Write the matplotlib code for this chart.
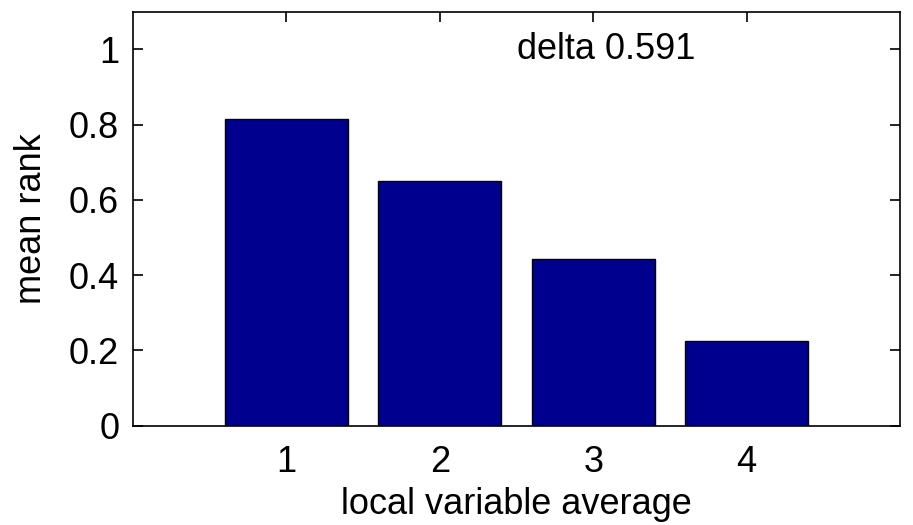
import matplotlib
matplotlib.use('Agg')
import matplotlib.pyplot as plt

plt.rcParams['font.family'] = ['Liberation Sans', 'DejaVu Sans']

groups = [1, 2, 3, 4]
mean_rank = [0.814, 0.650, 0.442, 0.225]
delta = 0.591

fig = plt.figure(figsize=(9.13, 5.25), dpi=100)
ax = fig.add_axes([0.1457, 0.189, 0.8401, 0.789])

ax.bar(groups, mean_rank, width=0.8, color='#00008F', edgecolor='black',
       linewidth=1.0, zorder=3)

ax.set_xlim(0, 5)
ax.set_ylim(0, 1.1)
ax.set_xticks(groups)
ax.set_yticks([0, 0.2, 0.4, 0.6, 0.8, 1])
ax.set_yticklabels(['0', '0.2', '0.4', '0.6', '0.8', '1'])
ax.tick_params(direction='in', length=7, width=1.2, labelsize=26,
               top=True, right=True, pad=10)
ax.tick_params(axis='x', pad=14)
for s in ax.spines.values():
    s.set_linewidth(1.2)
    s.set_zorder(4)

ax.set_xlabel('local variable average', fontsize=26, labelpad=5)
ax.set_ylabel('mean rank', fontsize=26, labelpad=14)
ax.text(2.5, 1.0, 'delta %.3f' % delta, fontsize=26, ha='left', va='center')

fig.savefig('out.png', dpi=100)
